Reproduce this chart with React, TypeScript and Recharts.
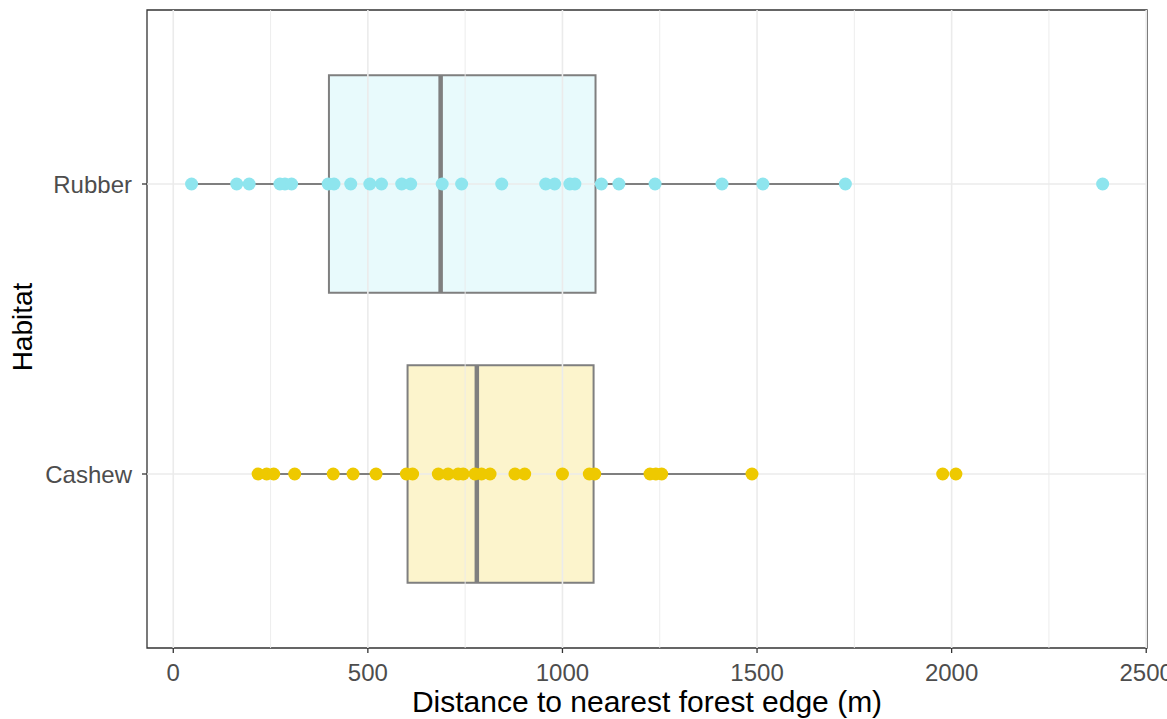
import React from 'react';
import {
  ComposedChart,
  Scatter,
  XAxis,
  YAxis,
  ReferenceArea,
  ReferenceLine,
} from 'recharts';

// Categories (y positions 1 = Cashew, 2 = Rubber)
const categories = ['Cashew', 'Rubber'];
const categoryPos = [1, 2];

// Distance values (m)
const rubberValues = [
  47, 163, 195, 274, 287, 304, 398, 413, 456, 505, 535, 587, 610, 691, 741,
  844, 957, 980, 1019, 1032, 1100, 1145, 1238, 1410, 1515, 1727, 2388,
];
const cashewValues = [
  218, 240, 258, 312, 411, 462, 521, 599, 615, 681, 706, 732, 745, 775, 792,
  814, 878, 903, 1000, 1069, 1083, 1225, 1240, 1255, 1487, 1977, 2011,
];

// Box plot statistics: [whiskerLow, q1, median, q3, whiskerHigh]
const cashewStats = [218, 602, 780, 1080, 1487];
const rubberStats = [47, 400, 687, 1085, 1727];

const seriesColors = ['#EEC900', '#8EE5EE'];

const xTicks = [0, 500, 1000, 1500, 2000, 2500];
const xMinorGrid = [250, 750, 1250, 1750, 2250];
const xDomain = [-67.5, 2502];
const yDomain = [0.4, 2.6];
const boxHalf = 0.375;

const FONT = 'Arial, "Liberation Sans", sans-serif';

const series = [
  { name: categories[0], pos: categoryPos[0], values: cashewValues, stats: cashewStats, color: seriesColors[0] },
  { name: categories[1], pos: categoryPos[1], values: rubberValues, stats: rubberStats, color: seriesColors[1] },
];

const makeDot = (color: string) => (props: any) => {
  const { cx, cy } = props;
  if (cx == null || cy == null) return <g />;
  return <circle cx={cx} cy={cy} r={6.5} fill={color} stroke="none" />;
};

export default function App() {
  return (
    <div style={{ position: 'absolute', left: 0, top: 0, background: '#fff' }}>
      <ComposedChart
        width={1167}
        height={719}
        margin={{ top: 10, right: 20, bottom: 0, left: 0 }}
        style={{ fontFamily: FONT }}
      >
        <XAxis
          type="number"
          dataKey="x"
          domain={xDomain}
          ticks={xTicks}
          allowDataOverflow
          axisLine={false}
          tickLine={{ stroke: '#333333', strokeWidth: 1.3 }}
          tickSize={5}
          tickMargin={11}
          height={71}
          interval={0}
          tick={{ fill: '#4d4d4d', fontSize: 24, fontFamily: FONT }}
          label={{
            value: 'Distance to nearest forest edge (m)',
            position: 'center',
            dy: 18,
            fill: '#000000',
            fontSize: 30,
            fontFamily: FONT,
          }}
        />
        <YAxis
          type="number"
          dataKey="y"
          domain={yDomain}
          ticks={categoryPos}
          allowDataOverflow
          axisLine={false}
          tickLine={{ stroke: '#333333', strokeWidth: 1.3 }}
          tickSize={5}
          tickMargin={10}
          width={147}
          interval={0}
          tickFormatter={(v: number) => categories[categoryPos.indexOf(v)] ?? ''}
          tick={{ fill: '#4d4d4d', fontSize: 24, fontFamily: FONT }}
          label={{
            value: 'Habitat',
            angle: -90,
            position: 'center',
            dx: -51,
            dy: -2,
            fill: '#000000',
            fontSize: 28,
            fontFamily: FONT,
          }}
        />

        {/* grid */}
        {xMinorGrid.map((v) => (
          <ReferenceLine key={'mg' + v} x={v} stroke="#ebebeb" strokeWidth={0.9} />
        ))}
        {xTicks.map((v) => (
          <ReferenceLine key={'g' + v} x={v} stroke="#ebebeb" strokeWidth={1.6} ifOverflow="visible" />
        ))}
        {categoryPos.map((v) => (
          <ReferenceLine key={'gy' + v} y={v} stroke="#ebebeb" strokeWidth={1.6} />
        ))}

        {/* boxes */}
        {series.map((s) => (
          <ReferenceLine
            key={'wl' + s.name}
            segment={[{ x: s.stats[0], y: s.pos }, { x: s.stats[1], y: s.pos }]}
            stroke="#7f7f7f"
            strokeWidth={2}
          />
        ))}
        {series.map((s) => (
          <ReferenceLine
            key={'wh' + s.name}
            segment={[{ x: s.stats[3], y: s.pos }, { x: s.stats[4], y: s.pos }]}
            stroke="#7f7f7f"
            strokeWidth={2}
          />
        ))}
        {series.map((s) => (
          <ReferenceArea
            key={'box' + s.name}
            x1={s.stats[1]}
            x2={s.stats[3]}
            y1={s.pos - boxHalf}
            y2={s.pos + boxHalf}
            fill={s.color}
            fillOpacity={0.2}
            stroke="#7f7f7f"
            strokeWidth={2}
          />
        ))}
        {series.map((s) => (
          <ReferenceLine
            key={'med' + s.name}
            segment={[{ x: s.stats[2], y: s.pos - boxHalf }, { x: s.stats[2], y: s.pos + boxHalf }]}
            stroke="#7f7f7f"
            strokeWidth={4.5}
          />
        ))}

        {/* panel border */}
        <ReferenceArea
          x1={xDomain[0]}
          x2={xDomain[1]}
          y1={yDomain[0]}
          y2={yDomain[1]}
          fill="none"
          stroke="#333333"
          strokeWidth={1.3}
          ifOverflow="visible"
        />

        {series.map((s) => (
          <Scatter
            key={'pts' + s.name}
            name={s.name}
            data={s.values.map((v) => ({ x: v, y: s.pos }))}
            fill={s.color}
            shape={makeDot(s.color)}
            isAnimationActive={false}
          />
        ))}
      </ComposedChart>
    </div>
  );
}
